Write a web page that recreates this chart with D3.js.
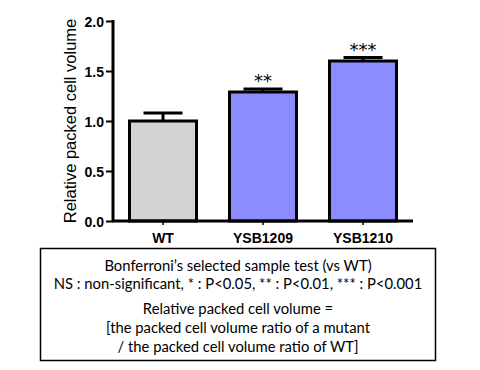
<!DOCTYPE html>
<html>
<head>
<meta charset="utf-8">
<script src="https://cdn.jsdelivr.net/npm/d3@7"></script>
<style>
  html, body { margin: 0; padding: 0; background: #fff; }
  svg { display: block; }
</style>
</head>
<body>
<svg id="chart" width="480" height="370"></svg>
<script>
// ---- data ----
const categories = ["WT", "YSB1209", "YSB1210"];
const means = [1.00, 1.29, 1.60];
const errors = [0.08, 0.03, 0.035];
const significance = ["", "**", "***"];
const barColors = ["#d3d3d3", "#8c8cff", "#8c8cff"];
const yTicks = [0.0, 0.5, 1.0, 1.5, 2.0];
const yTitle = "Relative packed cell volume";
const noteLines = [
  "Bonferroni\u2019s selected sample test (vs WT)",
  "NS : non-significant, * : P<0.05, ** : P<0.01, *** : P<0.001",
  "Relative packed cell volume =",
  "[the packed cell volume ratio of a mutant",
  "/ the packed cell volume ratio of WT]"
];

// ---- layout ----
const svg = d3.select("#chart");
const x0 = 113, x1 = 413, yTop = 21, yBot = 221;

const x = d3.scaleBand().domain(categories).range([x0, x1])
  .paddingInner(0.33).paddingOuter(0.165);
const y = d3.scaleLinear().domain([0, 2]).range([yBot, yTop]);

const data = categories.map((c, i) => ({ c, m: means[i], e: errors[i], s: significance[i], col: barColors[i] }));

// bars
svg.append("g").selectAll("rect").data(data).join("rect")
  .attr("x", d => x(d.c))
  .attr("y", d => y(d.m))
  .attr("width", x.bandwidth())
  .attr("height", d => y(0) - y(d.m))
  .attr("fill", d => d.col)
  .attr("stroke", "#000")
  .attr("stroke-width", 3);

// error bars
const eg = svg.append("g").attr("stroke", "#000").attr("stroke-width", 3);
eg.selectAll("line.v").data(data).join("line").attr("class", "v")
  .attr("x1", d => x(d.c) + x.bandwidth() / 2)
  .attr("x2", d => x(d.c) + x.bandwidth() / 2)
  .attr("y1", d => y(d.m))
  .attr("y2", d => y(d.m + d.e));
eg.selectAll("line.cap").data(data).join("line").attr("class", "cap")
  .attr("x1", d => x(d.c) + x.bandwidth() / 2 - 19.5)
  .attr("x2", d => x(d.c) + x.bandwidth() / 2 + 19.5)
  .attr("y1", d => y(d.m + d.e))
  .attr("y2", d => y(d.m + d.e));

// significance stars
svg.append("g").selectAll("text").data(data).join("text")
  .attr("x", d => x(d.c) + x.bandwidth() / 2)
  .attr("y", d => y(d.m + d.e) - 2)
  .attr("text-anchor", "middle")
  .attr("font-family", "DejaVu Sans")
  .attr("font-size", 18)
  .attr("fill", "#000")
  .text(d => d.s);

// y axis
const yAxis = svg.append("g").attr("transform", `translate(${x0},0)`)
  .call(d3.axisLeft(y).tickValues(yTicks).tickFormat(d3.format(".1f")).tickSize(7).tickPadding(2));
yAxis.select(".domain").attr("stroke-width", 3).attr("d", `M0,${yTop - 1}V${yBot + 1}`);
yAxis.selectAll(".tick line").attr("stroke-width", 2);
yAxis.selectAll(".tick text")
  .attr("font-family", "Liberation Sans, Arial, sans-serif")
  .attr("font-weight", "bold").attr("font-size", 14).attr("fill", "#000")
  .attr("dy", "0.36em");

// x axis
const xAxis = svg.append("g").attr("transform", `translate(0,${yBot})`)
  .call(d3.axisBottom(x).tickSize(4).tickPadding(8));
xAxis.select(".domain").attr("stroke-width", 3).attr("d", `M${x0 - 1},0H${x1}`);
xAxis.selectAll(".tick line").attr("stroke-width", 1.5);
xAxis.selectAll(".tick text")
  .attr("font-family", "Liberation Sans, Arial, sans-serif")
  .attr("font-weight", "bold").attr("font-size", 14).attr("fill", "#000");

// y title
svg.append("text")
  .attr("transform", `translate(76,${(yTop + yBot) / 2}) rotate(-90)`)
  .attr("text-anchor", "middle")
  .attr("font-family", "Liberation Sans, Arial, sans-serif")
  .attr("font-size", 16.5)
  .attr("fill", "#000")
  .text(yTitle);

// note box
svg.append("rect")
  .attr("x", 40.5).attr("y", 248.5).attr("width", 395).attr("height", 112)
  .attr("fill", "#fff").attr("stroke", "#000").attr("stroke-width", 1.5);

const baselines = [271, 289, 314, 333, 352];
svg.append("g").selectAll("text").data(noteLines).join("text")
  .attr("x", 238)
  .attr("y", (d, i) => baselines[i])
  .attr("text-anchor", "middle")
  .attr("font-family", "Lato, sans-serif")
  .attr("font-size", 14.8)
  .attr("fill", "#000")
  .text(d => d);
</script>
</body>
</html>
